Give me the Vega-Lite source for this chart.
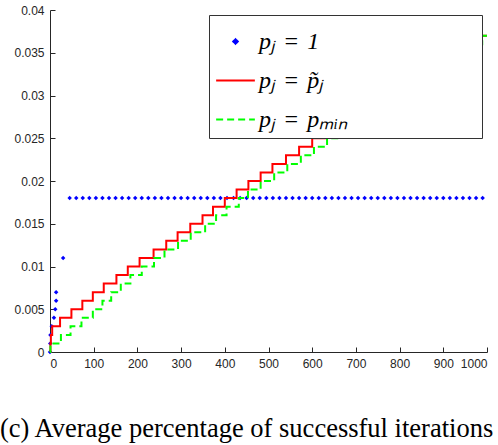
{
  "$schema": "https://vega.github.io/schema/vega-lite/v6.json",
  "autosize": {"type": "none"},
  "padding": {"left": 50, "top": 10, "right": 11, "bottom": 93},
  "width": 437,
  "height": 342,
  "background": "white",
  "title": {
    "text": "(c) Average percentage of successful iterations",
    "orient": "bottom",
    "anchor": "start",
    "frame": "group",
    "dx": -50,
    "offset": 47,
    "font": "Liberation Serif",
    "fontSize": 26.5,
    "fontWeight": "normal",
    "color": "#000000"
  },
  "config": {
    "view": {"stroke": null},
    "axis": {
      "grid": false,
      "domainColor": "#262626",
      "tickColor": "#262626",
      "labelColor": "#262626",
      "labelFont": "Liberation Sans",
      "labelFontSize": 12,
      "tickSize": -5,
      "labelPadding": 11,
      "title": null
    }
  },
  "data": {
    "values": [
      {"s": "a", "x": 0, "y": 0},
      {"s": "a", "x": 0.5, "y": 0.001},
      {"s": "a", "x": 1, "y": 0.002},
      {"s": "a", "x": 4, "y": 0.003},
      {"s": "a", "x": 9, "y": 0.004},
      {"s": "a", "x": 12, "y": 0.005},
      {"s": "a", "x": 14, "y": 0.006},
      {"s": "a", "x": 14, "y": 0.007},
      {"s": "a", "x": 30, "y": 0.011},
      {"s": "a", "x": 45, "y": 0.018},
      {"s": "a", "x": 60, "y": 0.018},
      {"s": "a", "x": 75, "y": 0.018},
      {"s": "a", "x": 90, "y": 0.018},
      {"s": "a", "x": 105, "y": 0.018},
      {"s": "a", "x": 120, "y": 0.018},
      {"s": "a", "x": 135, "y": 0.018},
      {"s": "a", "x": 150, "y": 0.018},
      {"s": "a", "x": 165, "y": 0.018},
      {"s": "a", "x": 180, "y": 0.018},
      {"s": "a", "x": 195, "y": 0.018},
      {"s": "a", "x": 210, "y": 0.018},
      {"s": "a", "x": 225, "y": 0.018},
      {"s": "a", "x": 240, "y": 0.018},
      {"s": "a", "x": 255, "y": 0.018},
      {"s": "a", "x": 270, "y": 0.018},
      {"s": "a", "x": 285, "y": 0.018},
      {"s": "a", "x": 300, "y": 0.018},
      {"s": "a", "x": 315, "y": 0.018},
      {"s": "a", "x": 330, "y": 0.018},
      {"s": "a", "x": 345, "y": 0.018},
      {"s": "a", "x": 360, "y": 0.018},
      {"s": "a", "x": 375, "y": 0.018},
      {"s": "a", "x": 390, "y": 0.018},
      {"s": "a", "x": 405, "y": 0.018},
      {"s": "a", "x": 420, "y": 0.018},
      {"s": "a", "x": 435, "y": 0.018},
      {"s": "a", "x": 450, "y": 0.018},
      {"s": "a", "x": 465, "y": 0.018},
      {"s": "a", "x": 480, "y": 0.018},
      {"s": "a", "x": 495, "y": 0.018},
      {"s": "a", "x": 510, "y": 0.018},
      {"s": "a", "x": 525, "y": 0.018},
      {"s": "a", "x": 540, "y": 0.018},
      {"s": "a", "x": 555, "y": 0.018},
      {"s": "a", "x": 570, "y": 0.018},
      {"s": "a", "x": 585, "y": 0.018},
      {"s": "a", "x": 600, "y": 0.018},
      {"s": "a", "x": 615, "y": 0.018},
      {"s": "a", "x": 630, "y": 0.018},
      {"s": "a", "x": 645, "y": 0.018},
      {"s": "a", "x": 660, "y": 0.018},
      {"s": "a", "x": 675, "y": 0.018},
      {"s": "a", "x": 690, "y": 0.018},
      {"s": "a", "x": 705, "y": 0.018},
      {"s": "a", "x": 720, "y": 0.018},
      {"s": "a", "x": 735, "y": 0.018},
      {"s": "a", "x": 750, "y": 0.018},
      {"s": "a", "x": 765, "y": 0.018},
      {"s": "a", "x": 780, "y": 0.018},
      {"s": "a", "x": 795, "y": 0.018},
      {"s": "a", "x": 810, "y": 0.018},
      {"s": "a", "x": 825, "y": 0.018},
      {"s": "a", "x": 840, "y": 0.018},
      {"s": "a", "x": 855, "y": 0.018},
      {"s": "a", "x": 870, "y": 0.018},
      {"s": "a", "x": 885, "y": 0.018},
      {"s": "a", "x": 900, "y": 0.018},
      {"s": "a", "x": 915, "y": 0.018},
      {"s": "a", "x": 930, "y": 0.018},
      {"s": "a", "x": 945, "y": 0.018},
      {"s": "a", "x": 960, "y": 0.018},
      {"s": "a", "x": 975, "y": 0.018},
      {"s": "a", "x": 990, "y": 0.018},

      {"s": "b", "x": 0, "y": 0},
      {"s": "b", "x": 1, "y": 0.001},
      {"s": "b", "x": 2, "y": 0.002},
      {"s": "b", "x": 5, "y": 0.003},
      {"s": "b", "x": 23, "y": 0.004},
      {"s": "b", "x": 49, "y": 0.005},
      {"s": "b", "x": 74, "y": 0.006},
      {"s": "b", "x": 98, "y": 0.007},
      {"s": "b", "x": 123, "y": 0.008},
      {"s": "b", "x": 152, "y": 0.009},
      {"s": "b", "x": 178, "y": 0.010},
      {"s": "b", "x": 205, "y": 0.011},
      {"s": "b", "x": 237, "y": 0.012},
      {"s": "b", "x": 266, "y": 0.013},
      {"s": "b", "x": 292, "y": 0.014},
      {"s": "b", "x": 321, "y": 0.015},
      {"s": "b", "x": 349, "y": 0.016},
      {"s": "b", "x": 373, "y": 0.017},
      {"s": "b", "x": 400, "y": 0.018},
      {"s": "b", "x": 427, "y": 0.019},
      {"s": "b", "x": 454, "y": 0.020},
      {"s": "b", "x": 482, "y": 0.021},
      {"s": "b", "x": 509, "y": 0.022},
      {"s": "b", "x": 540, "y": 0.023},
      {"s": "b", "x": 570, "y": 0.024},
      {"s": "b", "x": 600, "y": 0.025},
      {"s": "b", "x": 630, "y": 0.026},
      {"s": "b", "x": 660, "y": 0.027},
      {"s": "b", "x": 690, "y": 0.028},
      {"s": "b", "x": 720, "y": 0.029},
      {"s": "b", "x": 750, "y": 0.030},
      {"s": "b", "x": 780, "y": 0.031},
      {"s": "b", "x": 810, "y": 0.032},
      {"s": "b", "x": 840, "y": 0.033},
      {"s": "b", "x": 870, "y": 0.034},
      {"s": "b", "x": 900, "y": 0.035},
      {"s": "b", "x": 930, "y": 0.036},
      {"s": "b", "x": 960, "y": 0.037},
      {"s": "b", "x": 1000, "y": 0.037},

      {"s": "c", "x": 0, "y": 0},
      {"s": "c", "x": 1, "y": 0.001},
      {"s": "c", "x": 25, "y": 0.002},
      {"s": "c", "x": 47, "y": 0.003},
      {"s": "c", "x": 72, "y": 0.004},
      {"s": "c", "x": 98, "y": 0.005},
      {"s": "c", "x": 120, "y": 0.006},
      {"s": "c", "x": 140, "y": 0.007},
      {"s": "c", "x": 162, "y": 0.008},
      {"s": "c", "x": 184, "y": 0.009},
      {"s": "c", "x": 210, "y": 0.010},
      {"s": "c", "x": 238, "y": 0.011},
      {"s": "c", "x": 262, "y": 0.012},
      {"s": "c", "x": 293, "y": 0.013},
      {"s": "c", "x": 322, "y": 0.014},
      {"s": "c", "x": 355, "y": 0.015},
      {"s": "c", "x": 380, "y": 0.016},
      {"s": "c", "x": 404, "y": 0.017},
      {"s": "c", "x": 432, "y": 0.018},
      {"s": "c", "x": 453, "y": 0.019},
      {"s": "c", "x": 482, "y": 0.020},
      {"s": "c", "x": 513, "y": 0.021},
      {"s": "c", "x": 543, "y": 0.022},
      {"s": "c", "x": 574, "y": 0.023},
      {"s": "c", "x": 604, "y": 0.024},
      {"s": "c", "x": 634, "y": 0.025},
      {"s": "c", "x": 664, "y": 0.026},
      {"s": "c", "x": 693, "y": 0.027},
      {"s": "c", "x": 722, "y": 0.028},
      {"s": "c", "x": 751, "y": 0.029},
      {"s": "c", "x": 780, "y": 0.030},
      {"s": "c", "x": 809, "y": 0.031},
      {"s": "c", "x": 838, "y": 0.032},
      {"s": "c", "x": 867, "y": 0.033},
      {"s": "c", "x": 896, "y": 0.034},
      {"s": "c", "x": 925, "y": 0.035},
      {"s": "c", "x": 955, "y": 0.036},
      {"s": "c", "x": 989, "y": 0.037},
      {"s": "c", "x": 1000, "y": 0.037}
    ]
  },
  "encoding": {
    "x": {
      "field": "x", "type": "quantitative",
      "scale": {"domain": [0, 1000], "nice": false, "zero": false},
      "axis": {
        "values": [0, 100, 200, 300, 400, 500, 600, 700, 800, 900, 1000],
        "labelExpr": "format(datum.value, 'd')"
      }
    },
    "y": {
      "field": "y", "type": "quantitative",
      "scale": {"domain": [0, 0.04], "nice": false},
      "axis": {
        "values": [0, 0.005, 0.01, 0.015, 0.02, 0.025, 0.03, 0.035, 0.04],
        "labelExpr": "format(datum.value, '~g')"
      }
    },
    "color": {
      "field": "s", "type": "nominal",
      "scale": {"domain": ["a", "b", "c"], "range": ["#0000ff", "#ff0000", "#00ff00"]},
      "legend": {
        "title": null,
        "orient": "top-right",
        "offset": 5,
        "fillColor": "white",
        "strokeColor": "#333333",
        "padding": 6,
        "rowPadding": 6,
        "labelOffset": 3,
        "labelLimit": 400,
        "labelFont": "Liberation Serif",
        "labelFontSize": 24,
        "labelFontStyle": "italic",
        "labelColor": "#000000",
        "symbolType": "stroke",
        "symbolSize": 1500,
        "symbolStrokeWidth": 2,
        "labelExpr": "datum.value === 'a' ? 'p\u2C7C\u2004=\u20041\u00a0\u00a0\u00a0\u00a0\u00a0\u00a0\u00a0\u00a0\u00a0\u00a0\u00a0\u00a0\u00a0\u00a0\u00a0\u00a0\u00a0\u00a0\u00a0\u00a0\u00a0\u00a0\u00a0\u00a0\u00a0\u00a0\u200B' : datum.value === 'b' ? 'p\u2C7C\u2004=\u2004p\u0303\u2C7C' : 'p\u2C7C\u2004=\u2004p\u2098\u1D62\u2099'",
        "encode": {
          "symbols": {
            "update": {
              "shape": {"signal": "datum.value === 'a' ? 'diamond' : 'stroke'"},
              "size": {"signal": "datum.value === 'a' ? 20 : 1500"},
              "fill": {"signal": "datum.value === 'a' ? '#0000ff' : 'transparent'"},
              "stroke": {"signal": "datum.value === 'a' ? 'transparent' : (datum.value === 'b' ? '#ff0000' : '#00ff00')"},
              "strokeDash": {"signal": "datum.value === 'c' ? [7, 4] : [1, 0]"},
              "strokeWidth": {"value": 2},
              "opacity": {"value": 1}
            }
          }
        }
      }
    }
  },
  "layer": [
    {
      "transform": [{"filter": "datum.s === 'a'"}],
      "mark": {"type": "point", "shape": "diamond", "filled": true, "size": 20, "opacity": 1}
    },
    {
      "transform": [{"filter": "datum.s === 'b'"}],
      "mark": {"type": "line", "interpolate": "step-after", "strokeWidth": 2}
    },
    {
      "transform": [{"filter": "datum.s === 'c'"}],
      "mark": {"type": "line", "interpolate": "step-after", "strokeWidth": 2, "strokeDash": [7, 4]}
    }
  ]
}
